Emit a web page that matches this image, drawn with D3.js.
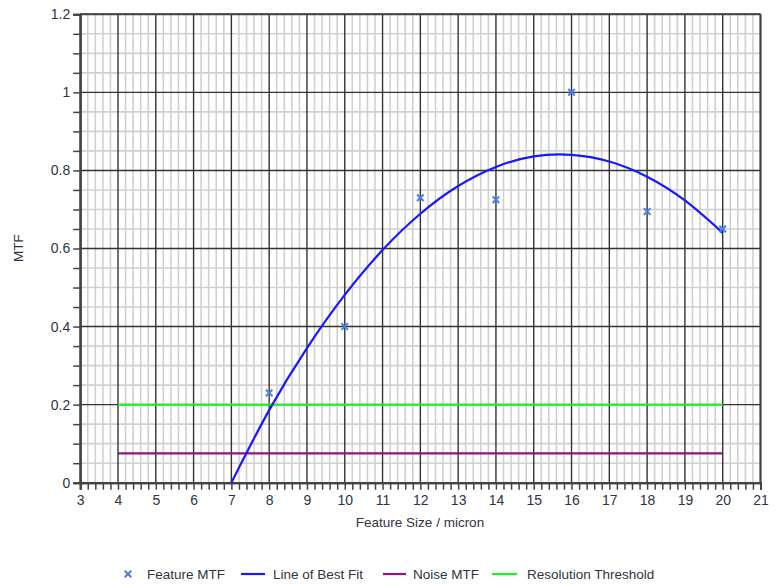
<!DOCTYPE html>
<meta charset="utf-8">
<body style="margin:0;background:#fff">
<script src="https://cdn.jsdelivr.net/npm/d3@7"></script>
<style>
text { font-family: "Liberation Sans", Arial, sans-serif; fill: #2f3440; }
</style>
<svg id="chart" width="781" height="586"></svg>
<script>
// measured feature MTF
var featX = [8, 10, 12, 14, 16, 18, 20];
var featY = [0.23, 0.40, 0.73, 0.725, 1.0, 0.695, 0.65];

// best fit curve
var fitX = [7, 8, 9, 10, 11, 12, 13, 14, 15, 16, 17, 18, 19, 20];
var fitY = [0.0, 0.186, 0.345, 0.481, 0.596, 0.689, 0.760, 0.809, 0.836, 0.840, 0.823, 0.784, 0.723, 0.640];

var noiseX = [4, 20], noiseY = [0.075, 0.075];
var threshX = [4, 20], threshY = [0.2, 0.2];

var legendNames = ["Feature MTF", "Line of Best Fit", "Noise MTF", "Resolution Threshold"];

var svg = d3.select("#chart");
var x = d3.scaleLinear().domain([3, 21]).range([80.2, 760.5]);
var y = d3.scaleLinear().domain([0, 1.2]).range([482.7, 14.3]);

var g = svg.append("g");

// minor grid
var xMinor = d3.range(3, 21.001, 0.2).filter(function(v){ return Math.abs(v - Math.round(v)) > 1e-6; });
var yMinor = d3.range(0, 1.2001, 0.05).filter(function(v){ return Math.abs(v*5 - Math.round(v*5)) > 1e-6; });
g.selectAll(".vmin").data(xMinor).enter().append("line")
  .attr("x1", d => x(d)).attr("x2", d => x(d)).attr("y1", y(0)).attr("y2", y(1.2))
  .attr("stroke", "#d0d0d0").attr("stroke-width", 1.6);
g.selectAll(".hmin").data(yMinor).enter().append("line")
  .attr("y1", d => y(d)).attr("y2", d => y(d)).attr("x1", x(3)).attr("x2", x(21))
  .attr("stroke", "#d0d0d0").attr("stroke-width", 1.6);

// major grid
g.selectAll(".vmaj").data(d3.range(3, 22, 1)).enter().append("line")
  .attr("x1", d => x(d)).attr("x2", d => x(d)).attr("y1", y(0)).attr("y2", y(1.2))
  .attr("stroke", "#333").attr("stroke-width", 1.4);
g.selectAll(".hmaj").data(d3.range(0, 1.2001, 0.2)).enter().append("line")
  .attr("y1", d => y(d)).attr("y2", d => y(d)).attr("x1", x(3)).attr("x2", x(21))
  .attr("stroke", "#333").attr("stroke-width", 1.4);

// axes
var xAxis = d3.axisBottom(x).tickValues(d3.range(3, 22, 1)).tickSize(7).tickPadding(5).tickFormat(d3.format("d"));
var xMinorAxis = d3.axisBottom(x).tickValues(xMinor).tickSize(7).tickFormat("");
var yAxis = d3.axisLeft(y).tickValues(d3.range(0, 1.2001, 0.2)).tickSize(7).tickPadding(3).tickFormat(d => +d.toFixed(1));
var yMinorAxis = d3.axisLeft(y).tickValues(yMinor).tickSize(7).tickFormat("");

[ [xMinorAxis, "translate(0," + y(0) + ")"], [xAxis, "translate(0," + y(0) + ")"],
  [yMinorAxis, "translate(" + x(3) + ",0)"], [yAxis, "translate(" + x(3) + ",0)"] ].forEach(function(a){
  var ax = svg.append("g").attr("transform", a[1]).call(a[0]);
  ax.select(".domain").attr("stroke", "#444").attr("stroke-width", 2);
  ax.selectAll(".tick line").attr("stroke", "#444").attr("stroke-width", 1.5);
  ax.selectAll(".tick text").attr("fill", "#2f3a52").style("font-size", "14px");
});
svg.append("line").attr("x1", x(21)).attr("x2", x(21)).attr("y1", y(0)).attr("y2", y(1.2))
  .attr("stroke", "#444").attr("stroke-width", 2);
svg.append("line").attr("x1", x(3)).attr("x2", x(21)).attr("y1", y(1.2)).attr("y2", y(1.2))
  .attr("stroke", "#444").attr("stroke-width", 2);

// series
var line = d3.line().x(d => x(d[0])).y(d => y(d[1]));
svg.append("path").datum(d3.zip(threshX, threshY)).attr("d", line)
  .attr("fill", "none").attr("stroke", "#22ee22").attr("stroke-width", 2.2);
svg.append("path").datum(d3.zip(noiseX, noiseY)).attr("d", line)
  .attr("fill", "none").attr("stroke", "#8b168b").attr("stroke-width", 2.2);
svg.append("path").datum(d3.zip(fitX, fitY)).attr("d", line.curve(d3.curveNatural))
  .attr("fill", "none").attr("stroke", "#1818ff").attr("stroke-width", 2.2);

var cross = d3.symbol().type(d3.symbolX).size(30);
svg.selectAll(".pt").data(d3.zip(featX, featY)).enter().append("path")
  .attr("d", cross).attr("transform", d => "translate(" + x(d[0]) + "," + y(d[1]) + ")")
  .attr("fill", "#4a7fe0").attr("stroke", "#4a7fe0").attr("stroke-width", 2);

// titles
svg.append("text").attr("x", 420).attr("y", 527).attr("text-anchor", "middle")
  .style("font-size", "13.5px").text("Feature Size / micron");
svg.append("text").attr("transform", "translate(23,248) rotate(-90)").attr("text-anchor", "middle")
  .style("font-size", "13.5px").text("MTF");

// legend
var leg = svg.append("g").attr("transform", "translate(0,574)");
leg.append("path").attr("d", cross).attr("transform", "translate(128,0)")
  .attr("fill", "#4a7fe0").attr("stroke", "#4a7fe0").attr("stroke-width", 2);
var legLines = [[241, 265, "#1818ff"], [383, 406, "#8b168b"], [492, 517, "#22ee22"]];
legLines.forEach(function(l){
  leg.append("line").attr("x1", l[0]).attr("x2", l[1]).attr("y1", 0).attr("y2", 0)
    .attr("stroke", l[2]).attr("stroke-width", 2.2);
});
var legTextX = [147, 273, 413, 527];
legendNames.forEach(function(n, i){
  leg.append("text").attr("x", legTextX[i]).attr("y", 5).style("font-size", "13.5px").text(n);
});
</script>
</body>
